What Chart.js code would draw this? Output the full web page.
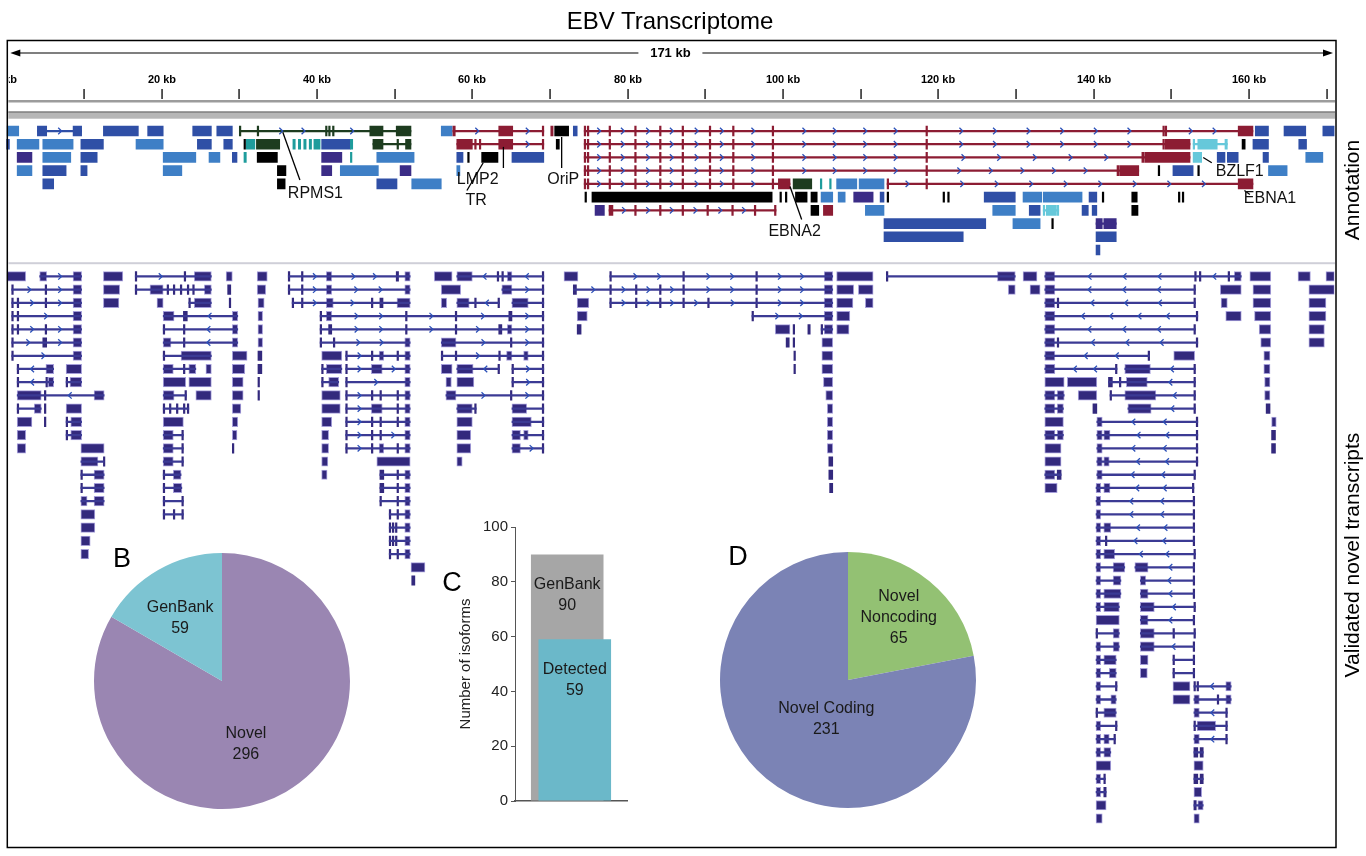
<!DOCTYPE html>
<html>
<head>
<meta charset="utf-8">
<script src="https://cdn.jsdelivr.net/npm/chart.js@4.4.1/dist/chart.umd.min.js"></script>
<style>
  body { margin: 0; background: #fff; font-family: "Liberation Sans", Arial, sans-serif; }
  #wrap { position: relative; width: 1366px; height: 856px; overflow: hidden; }
  canvas { position: absolute; }
  .txt { position: absolute; white-space: nowrap; color: #000; transform: translate(-50%, -50%); }
  .rot { transform: translate(-50%, -50%) rotate(-90deg); }
</style>
</head>
<body>
<div id="wrap">
  <canvas id="genome" width="1366" height="856" style="left:0;top:0"></canvas>
  <canvas id="pieB" width="300" height="300" style="left:72px;top:531px"></canvas>
  <canvas id="barC" width="210" height="320" style="left:430px;top:500px"></canvas>
  <canvas id="pieD" width="300" height="300" style="left:698px;top:530px"></canvas>
  <div class="txt" style="left:670px;top:21px;font-size:24px">EBV Transcriptome</div>
  <div class="txt rot" style="left:1352px;top:190px;font-size:21px">Annotation</div>
  <div class="txt rot" style="left:1352px;top:555px;font-size:21px">Validated novel transcripts</div>
  <div class="txt" style="left:122px;top:558px;font-size:27px">B</div>
  <div class="txt" style="left:452px;top:582px;font-size:27px">C</div>
  <div class="txt" style="left:738px;top:556px;font-size:27px">D</div>
</div>
<script>
// genome length and ruler (kb)
const genomeLength = 171;
const rulerTicks = [0, 10, 20, 30, 40, 50, 60, 70, 80, 90, 100, 110, 120, 130, 140, 150, 160, 170];

// annotation track: [row, strand, type, [exonStart, exonEnd, ...]] in kb
const annotTranscripts = [
  [0,0,'lb',[0.1,1.6]], [0,1,'b',[4.0,5.2, 8.6,9.7]], [0,0,'b',[12.5,17.0]], [0,0,'b',[18.2,20.2]],
  [0,0,'b',[24.0,26.4]], [0,0,'b',[27.1,29.1]],
  [0,1,'g',[30.0,30.2, 32.3,32.5, 41.1,41.3, 41.5,41.7, 42.0,42.2, 46.8,48.5, 50.2,52.1]],
  [0,0,'lb',[56.0,57.4]], [0,1,'r',[57.5,57.8, 63.4,65.2, 69.0,69.2]], [0,0,'r',[70.1,70.4]],
  [0,0,'k',[70.6,72.4]], [0,0,'b',[73.0,73.5]],
  [0,1,'r',[74.4,74.6, 74.8,75.0, 77.6,77.8, 80.9,81.1, 84.1,84.3, 87.0,87.2, 90.5,90.7, 93.5,93.7, 98.6,98.8, 118.4,118.6, 148.9,149.1, 149.2,149.4, 158.6,160.5]],
  [0,0,'b',[160.8,162.5]], [0,0,'b',[164.5,167.3]], [0,0,'b',[169.5,171]],

  [1,0,'b',[0,0.4]], [1,0,'lb',[1.4,4.2]], [1,0,'lb',[4.7,8.6]], [1,0,'b',[9.6,12.5]], [1,0,'lb',[16.7,20.2]],
  [1,0,'b',[24.6,26.4]], [1,0,'b',[28.0,29.1]], [1,0,'k',[30.6,30.8]], [1,0,'t',[30.9,32.0]], [1,0,'g',[32.2,35.2]],
  [1,0,'t',[36.9,37.2]], [1,0,'t',[37.6,37.9]], [1,0,'t',[38.3,38.6]], [1,0,'t',[39.0,39.3]], [1,0,'t',[39.6,40.4]],
  [1,0,'b',[40.6,44.3]], [1,0,'t',[44.3,44.6]], [1,0,'g',[47.2,48.5, 50.3,50.5, 51.4,52.1]],
  [1,1,'r',[58.0,60.0, 60.3,60.5, 60.9,61.0, 63.4,65.2, 69.0,69.2]], [1,0,'k',[70.8,71.2]],
  [1,1,'r',[74.4,74.6, 74.8,75.0, 77.6,77.8, 80.9,81.1, 84.1,84.3, 87.0,87.2, 90.5,90.7, 93.5,93.7, 98.6,98.8, 118.4,118.6, 148.9,149.1, 149.2,152.4]],
  [1,0,'c',[152.8,153.0, 153.4,155.9, 156.9,157.2]], [1,0,'k',[159.1,159.5]], [1,0,'b',[160.5,162.5]], [1,0,'b',[166.4,167.4]],

  [2,0,'pu',[1.4,3.3]], [2,0,'lb',[4.7,8.3]], [2,0,'b',[9.6,11.7]], [2,0,'lb',[20.2,24.4]], [2,0,'lb',[26.1,27.5]],
  [2,0,'b',[29.1,29.7]], [2,0,'t',[30.6,30.9]], [2,0,'k',[32.3,34.9]], [2,0,'pu',[40.6,43.2]], [2,0,'t',[44.3,44.5]],
  [2,0,'lb',[47.7,52.5]], [2,0,'b',[58.0,58.8]], [2,0,'k',[59.4,59.6]], [2,0,'k',[61.2,63.3]], [2,0,'b',[65.1,69.2]],
  [2,1,'r',[74.4,74.6, 74.8,75.0, 77.6,77.8, 80.9,81.1, 84.1,84.3, 87.0,87.2, 90.5,90.7, 93.5,93.7, 98.6,98.8, 118.4,118.6, 146.2,146.5, 146.6,152.4]],
  [2,0,'c',[152.8,153.9]], [2,0,'b',[155.9,156.9]], [2,0,'b',[157.2,158.6]], [2,0,'b',[161.8,162.5]], [2,0,'lb',[167.3,169.5]],

  [3,0,'lb',[1.4,3.3]], [3,0,'b',[4.7,7.7]], [3,0,'b',[9.6,10.4]], [3,0,'lb',[20.2,22.6]], [3,0,'k',[34.9,36.0]],
  [3,0,'pu',[40.6,41.9]], [3,0,'lb',[43.0,47.9]], [3,0,'pu',[50.7,52.1]], [3,0,'lb',[58.0,58.4]],
  [3,1,'r',[74.4,74.6, 74.8,75.0, 77.6,77.8, 80.9,81.1, 84.1,84.3, 87.0,87.2, 90.5,90.7, 93.5,93.7, 98.6,98.8, 118.4,118.6, 143.0,143.3, 143.4,145.8]],
  [3,0,'k',[148.3,148.5]], [3,0,'b',[150.2,152.8]], [3,0,'k',[153.4,153.6]], [3,0,'lb',[162.5,164.9]],

  [4,0,'b',[4.7,6.1]], [4,0,'k',[34.9,35.9]], [4,0,'b',[47.7,50.3]], [4,0,'lb',[52.2,56.0]],
  [4,1,'r',[74.4,74.6, 74.8,75.0, 77.6,77.8, 80.9,81.1, 84.1,84.3, 87.0,87.2, 90.5,90.7, 93.5,93.7, 98.6,98.8, 99.4,100.9]],
  [4,0,'g',[101.3,103.7]], [4,0,'t',[104.8,105.0]], [4,0,'t',[106.0,106.2]], [4,0,'lb',[106.9,109.5]], [4,0,'lb',[109.8,113.0]],
  [4,1,'r',[113.4,113.6, 118.4,118.6, 158.6,160.5]],

  [5,0,'k',[74.5,74.7]], [5,0,'k',[75.4,98.6]], [5,0,'k',[99.6,99.8]], [5,0,'k',[100.3,100.5]], [5,0,'k',[101.6,103.1]],
  [5,0,'k',[103.6,104.4]], [5,0,'lb',[104.9,106.4]], [5,0,'lb',[107.1,108.0]], [5,0,'pu',[109.1,111.6]], [5,0,'b',[112.5,113.0]],
  [5,0,'k',[113.4,113.6]], [5,0,'k',[120.6,120.8]], [5,0,'k',[121.2,121.4]], [5,0,'b',[125.9,129.9]], [5,0,'lb',[130.9,133.3]],
  [5,0,'lb',[133.5,138.5]], [5,0,'b',[139.4,140.4]], [5,0,'k',[141.1,141.3]], [5,0,'k',[144.9,145.6]],
  [5,0,'k',[150.9,151.1]], [5,0,'k',[151.4,151.6]],

  [6,0,'pu',[75.8,77.0]],
  [6,1,'r',[77.6,78.1, 80.9,81.1, 84.1,84.3, 87.0,87.2, 90.2,90.4, 93.4,93.6, 96.3,96.5, 98.9,99.1]],
  [6,0,'k',[103.6,104.6]], [6,0,'r',[105.2,106.4]], [6,0,'lb',[110.6,113.0]], [6,0,'lb',[127.0,129.9]], [6,0,'b',[131.7,133.1]],
  [6,0,'c',[133.5,133.7, 133.9,135.2, 135.3,135.5]], [6,0,'b',[138.5,139.3]], [6,0,'b',[139.8,140.4]], [6,0,'k',[144.9,145.7]],

  [7,0,'b',[113.0,126.1]], [7,0,'lb',[129.6,133.1]], [7,0,'k',[134.6,134.8]], [7,0,'pu',[140.3,141.1, 141.3,142.9]],
  [8,-1,'b',[113.0,123.2]], [8,0,'b',[140.3,142.9]],
  [9,0,'b',[140.3,140.8]]
];

// validated novel transcripts: [row, strand, [exonStart, exonEnd, ...]] in kb
const novelTranscripts = [
  [0,0,[0.1,2.5]], [0,1,[4.3,5.2, 8.6,9.7]], [0,0,[12.5,15.0]], [0,1,[16.6,16.8, 22.9,23.1, 24.2,26.4]],
  [0,0,[28.3,29.1]], [0,0,[32.3,33.6]], [0,1,[36.3,36.5, 38.0,38.2, 41.2,41.9, 50.2,50.5, 51.3,52.0]],
  [0,0,[55.1,57.4]], [0,-1,[58.0,60.0, 63.2,63.4, 63.8,64.0, 64.5,65.1, 69.0,69.2]], [0,0,[71.8,73.6]],
  [0,1,[77.7,77.9, 87.1,87.3, 96.5,96.7, 105.3,106.4]], [0,0,[106.9,111.6]], [0,0,[113.3,113.5, 127.6,129.9]],
  [0,0,[130.9,132.7]], [0,-1,[133.7,135.0, 153.0,153.2, 153.6,153.8, 157.3,157.5, 158.1,159.0]],
  [0,0,[160.1,162.8]], [0,0,[166.3,167.9]], [0,0,[169.9,171]],

  [1,1,[0.7,0.9, 5.0,5.2, 8.6,9.7]], [1,0,[12.5,14.6]],
  [1,0,[16.6,16.8, 18.5,20.2, 20.7,20.9, 21.5,21.7, 22.4,22.6, 23.3,23.5, 24.0,24.2, 25.5,26.4]],
  [1,0,[28.5,28.9]], [1,0,[32.3,33.4]], [1,1,[36.3,36.5, 38.0,38.2, 41.2,41.9, 51.3,52.0]], [1,0,[56.0,58.5]],
  [1,1,[63.8,65.1, 69.0,69.2]], [1,1,[73.0,73.4, 77.7,77.9, 81.0,81.2, 84.1,84.3, 87.1,87.3, 96.5,96.7, 105.3,106.4]],
  [1,0,[106.9,109.1]], [1,0,[109.7,111.6]], [1,0,[129.0,129.9]], [1,0,[131.8,133.1]], [1,-1,[133.7,135.0, 152.9,153.1]],
  [1,0,[156.3,159.0]], [1,0,[160.5,162.8]], [1,0,[167.7,171]],

  [2,1,[0.7,0.9, 1.4,1.6, 5.0,5.2, 8.6,9.7]], [2,0,[12.5,14.5]], [2,0,[19.4,20.2]], [2,0,[23.5,23.7, 24.2,26.4]],
  [2,0,[28.7,28.9]], [2,0,[32.4,33.2]], [2,1,[36.8,37.0, 38.0,38.2, 41.2,42.1, 47.0,47.2, 48.1,48.5, 50.3,52.0]],
  [2,0,[56.0,56.7]], [2,-1,[58.0,59.6, 60.3,60.5, 63.3,63.5]], [2,0,[65.1,67.2, 69.0,69.2]], [2,0,[73.5,75.0]],
  [2,1,[77.7,77.9, 81.0,81.2, 84.1,84.3, 87.1,87.3, 90.3,90.5, 96.5,96.7, 105.3,106.4]], [2,0,[106.9,109.0]],
  [2,0,[110.6,111.6]], [2,-1,[133.7,135.0, 135.3,135.5, 152.9,153.1]], [2,0,[156.4,157.2]], [2,0,[160.5,162.8]], [2,0,[167.7,169.9]],

  [3,1,[0.7,0.9, 1.4,1.6, 8.6,9.7]], [3,-1,[20.2,21.6, 22.8,23.3, 29.1,29.8]], [3,0,[32.4,33.0]],
  [3,1,[40.4,40.6, 41.2,41.9, 51.4,51.6, 57.8,58.0, 64.7,65.1, 69.0,69.2]], [3,0,[73.5,74.8]],
  [3,1,[96.0,96.2, 105.3,106.4]], [3,0,[106.9,108.6]], [3,-1,[133.7,135.0, 153.2,153.4]], [3,0,[157.0,159.0]],
  [3,0,[160.7,162.8]], [3,0,[167.7,169.9]],

  [4,1,[0.7,0.9, 1.4,1.6, 5.0,5.2, 8.6,9.7]], [4,-1,[20.2,20.4, 22.8,23.0, 29.1,29.8]], [4,0,[32.4,33.0]],
  [4,1,[40.4,40.6, 41.5,41.9, 51.4,51.6, 57.8,58.0, 63.4,63.8, 64.5,65.1, 69.0,69.2]], [4,0,[73.5,74.0]],
  [4,0,[99.0,100.9]], [4,0,[101.3,101.5]], [4,0,[103.2,103.5]], [4,0,[104.9,105.1, 105.3,106.4]], [4,0,[106.9,108.5]],
  [4,-1,[133.7,135.0, 152.9,153.1]], [4,0,[161.3,162.8]], [4,0,[167.7,169.7]],

  [5,1,[0.7,0.9, 4.7,5.2, 8.6,9.7]], [5,-1,[20.2,21.2, 22.8,23.0, 29.1,29.8]], [5,0,[32.4,33.0]],
  [5,1,[40.4,40.6, 42.1,42.3, 51.3,52.0]], [5,1,[56.0,57.9, 64.9,65.1, 69.0,69.2]], [5,0,[100.4,100.8]],
  [5,0,[101.3,101.5]], [5,0,[105.0,106.4]], [5,-1,[133.7,135.0, 135.3,135.5, 153.2,153.4]], [5,0,[161.5,162.8]], [5,0,[167.7,169.7]],

  [6,1,[0.7,0.9, 8.6,9.7]], [6,0,[20.2,20.4, 22.5,26.4]], [6,0,[29.1,31.0]], [6,0,[32.4,32.9]], [6,0,[40.6,43.2]],
  [6,1,[43.7,43.9, 47.0,47.2, 48.0,48.6, 50.3,50.5, 51.3,52.0]],
  [6,1,[56.0,56.2, 57.8,58.0, 63.4,63.6, 64.4,65.1, 66.6,67.2, 69.0,69.2]], [6,0,[101.4,101.6]], [6,0,[105.0,106.4]],
  [6,-1,[133.7,135.0, 147.0,147.2]], [6,0,[150.3,153.0]], [6,0,[161.9,162.7]],

  [7,-1,[1.4,1.6, 5.1,6.1]], [7,0,[7.7,9.7]], [7,0,[20.2,21.5, 22.8,23.0, 23.5,24.4]], [7,0,[25.7,26.4]],
  [7,0,[29.1,30.7]], [7,0,[32.4,32.9]], [7,0,[40.6,40.8, 41.2,43.2]], [7,1,[43.7,43.9, 47.0,48.4, 51.3,52.0]],
  [7,0,[56.0,57.4]], [7,-1,[58.0,60.1, 63.3,63.5]], [7,1,[65.1,65.3, 69.0,69.2]], [7,0,[101.4,101.6]], [7,0,[105.0,106.4]],
  [7,-1,[133.7,135.0, 142.8,143.0]], [7,-1,[144.0,147.3, 152.9,153.1]], [7,0,[161.9,162.7]],

  [8,-1,[1.4,1.6, 5.1,5.3, 5.4,6.1]], [8,0,[7.7,7.9, 8.2,9.7]], [8,0,[20.2,23.1]], [8,0,[23.5,26.4]], [8,0,[29.1,30.5]],
  [8,0,[32.4,32.6]], [8,0,[40.6,40.8, 41.5,42.8]], [8,1,[43.7,43.9, 51.3,52.0]], [8,0,[56.6,57.3]], [8,0,[58.0,60.2]],
  [8,1,[65.1,65.3, 69.0,69.2]], [8,0,[105.2,106.4]], [8,0,[133.7,136.2]], [8,0,[136.6,140.4]],
  [8,-1,[141.9,142.4, 143.3,143.5, 144.2,146.9, 152.9,153.1]], [8,0,[162.0,162.7]],

  [9,-1,[1.4,4.5, 4.9,5.1, 11.3,12.6]], [9,0,[20.2,21.6, 23.0,23.2]], [9,0,[24.4,26.4]], [9,0,[29.1,30.5]],
  [9,0,[32.4,32.6]], [9,0,[40.6,43.0]], [9,1,[43.7,43.9, 47.0,47.2, 48.1,48.3, 50.3,50.5, 51.3,52.0]],
  [9,1,[56.6,57.9, 64.9,65.1, 69.0,69.2]], [9,0,[105.5,106.4]], [9,0,[133.7,135.0, 135.3,136.2]], [9,0,[138.0,140.4]],
  [9,-1,[142.1,142.3, 144.0,148.0, 152.9,153.1]], [9,0,[162.0,162.7]],

  [10,0,[1.4,1.6, 3.6,4.5]], [10,0,[4.9,5.1]], [10,0,[7.7,9.7]], [10,0,[20.2,20.4, 21.0,21.2, 21.9,22.1, 22.8,23.0, 23.3,23.5]],
  [10,0,[29.1,30.2]], [10,0,[40.6,43.0]], [10,1,[43.7,43.9, 47.0,48.4, 50.3,50.5, 51.3,52.0]], [10,0,[58.0,60.0, 60.3,60.5]],
  [10,0,[65.1,67.0, 69.0,69.2]], [10,0,[105.7,106.4]], [10,0,[133.7,135.0, 135.3,136.1]], [10,0,[139.9,140.4]],
  [10,-1,[144.4,147.4, 152.9,153.1]], [10,0,[162.2,162.7]],

  [11,0,[1.4,3.3]], [11,0,[4.9,5.1]], [11,0,[7.7,7.9, 8.3,9.7]], [11,0,[20.2,22.8]], [11,0,[29.1,29.8]], [11,0,[40.6,41.9]],
  [11,1,[43.7,43.9, 47.0,47.2, 48.1,48.3, 50.3,50.5, 51.3,52.0]], [11,0,[58.0,60.0]], [11,0,[65.1,67.6, 69.0,69.2]],
  [11,0,[105.7,106.4]], [11,0,[133.7,136.1]], [11,-1,[140.4,141.1, 153.2,153.4]], [11,0,[162.9,163.5]],

  [12,0,[1.4,2.5]], [12,0,[7.7,7.9, 8.3,9.7]], [12,0,[20.2,21.5, 22.6,22.8]], [12,0,[29.1,29.7]], [12,0,[40.6,41.5]],
  [12,1,[43.7,43.9, 47.0,47.2, 48.1,48.3, 51.3,52.0]], [12,0,[58.0,59.8]], [12,0,[65.1,66.2, 66.6,67.2, 69.0,69.2]],
  [12,0,[105.7,106.4]], [12,0,[133.7,135.0, 135.3,136.1]], [12,-1,[140.4,141.1, 141.3,142.1, 153.2,153.4]], [12,0,[162.9,163.4]],

  [13,0,[1.4,2.5]], [13,0,[9.6,12.6]], [13,0,[20.2,21.5, 22.6,22.8]], [13,0,[29.1,29.3]], [13,0,[40.6,41.5]],
  [13,1,[43.7,43.9, 47.0,47.2, 48.0,48.6, 50.3,50.5, 51.3,52.0]], [13,0,[58.0,59.8]], [13,1,[65.1,66.2, 69.0,69.2]],
  [13,0,[105.7,106.4]], [13,0,[133.7,135.8]], [13,-1,[140.4,141.1, 153.2,153.4]], [13,0,[162.9,163.4]],

  [14,0,[9.6,11.8, 12.5,12.6]], [14,0,[20.2,21.5, 22.6,22.8]], [14,0,[40.6,41.4]], [14,0,[47.7,52.0]], [14,0,[58.0,58.7]],
  [14,0,[105.9,106.4]], [14,0,[133.7,135.8]], [14,-1,[140.4,141.1, 141.3,142.0, 153.2,153.4]],

  [15,0,[9.6,9.8, 11.3,12.6]], [15,0,[20.2,20.4, 21.5,22.5]], [15,0,[40.6,41.3]], [15,0,[48.1,48.6, 50.3,50.5, 51.3,52.0]],
  [15,0,[105.9,106.4]], [15,0,[133.7,135.0, 135.3,135.8]], [15,-1,[140.4,141.1, 152.9,153.1]],

  [16,0,[9.6,9.8, 11.3,12.6]], [16,0,[20.2,20.4, 21.5,22.6]], [16,0,[48.1,48.6, 50.3,50.5, 51.3,52.0]], [16,0,[106.0,106.4]],
  [16,0,[133.7,135.3]], [16,-1,[140.3,140.9, 141.3,142.1, 152.7,152.9]],

  [17,0,[9.6,10.4, 11.3,12.6]], [17,0,[20.2,20.4, 22.6,22.8]], [17,0,[48.1,48.3, 50.3,50.5, 51.3,52.0]], [17,-1,[140.3,140.9, 152.8,153.0]],
  [18,0,[9.6,11.4]], [18,0,[20.2,20.4, 21.5,21.7, 22.6,22.8]], [18,0,[49.3,49.5, 50.3,50.5, 51.3,52.0]], [18,-1,[140.3,140.9, 152.8,153.0]],
  [19,0,[9.6,11.4]], [19,0,[49.3,49.5, 49.7,49.9, 50.1,50.3, 51.3,52.0]], [19,-1,[140.3,140.9, 141.3,142.2, 152.8,153.0]],
  [20,0,[9.6,10.8]], [20,0,[49.3,49.5, 49.7,49.9, 50.1,50.3, 51.3,52.0]], [20,-1,[140.3,140.9, 141.5,141.7, 152.8,153.0]],
  [21,0,[9.6,10.6]], [21,0,[49.3,49.5, 50.3,50.5, 51.3,52.0]], [21,-1,[140.3,140.9, 141.3,142.7, 152.9,153.1]],
  [22,0,[52.1,53.9]], [22,0,[140.3,140.9, 142.5,144.0]], [22,-1,[145.3,147.0, 152.8,153.0]],
  [23,0,[52.2,52.6]], [23,0,[140.3,140.9, 142.5,143.5]], [23,-1,[146.0,146.7, 152.8,153.0]],
  [24,0,[140.3,140.9, 141.3,143.5]], [24,-1,[146.0,147.0, 152.8,153.0]],
  [25,0,[140.3,140.9, 141.3,143.3]], [25,-1,[146.0,147.8, 152.9,153.1]],
  [26,0,[140.3,143.3]], [26,-1,[146.0,147.0, 152.8,153.0]],
  [27,0,[140.3,140.5, 142.5,143.3]], [27,-1,[146.0,147.8, 150.2,150.4, 152.9,153.1]],
  [28,0,[140.3,140.9, 142.5,143.3]], [28,-1,[146.0,147.8, 152.8,153.0]],
  [29,0,[140.3,140.9, 141.3,142.9]], [29,0,[146.0,147.0]], [29,0,[150.2,150.4, 152.8,153.0]],
  [30,0,[140.3,140.9, 142.0,142.9]], [30,0,[146.0,146.9]], [30,0,[150.2,150.4, 152.8,153.0]],
  [31,0,[140.3,140.9, 142.8,143.0]], [31,0,[150.2,152.4]], [31,-1,[152.9,153.1, 153.3,153.5, 157.0,157.7]],
  [32,0,[140.3,140.9, 142.2,142.9]], [32,0,[150.2,152.4]], [32,0,[152.9,153.6, 155.9,156.1, 157.0,157.7]],
  [33,0,[140.3,140.5, 141.3,142.9]], [33,-1,[152.9,153.6, 157.0,157.2]],
  [34,0,[140.3,140.9, 142.8,143.0]], [34,0,[152.9,153.1, 153.3,155.7, 157.0,157.2]],
  [35,0,[140.3,140.9, 141.3,142.0, 142.6,142.8]], [35,-1,[152.9,153.6, 157.0,157.2]],
  [36,0,[140.3,140.9, 141.3,142.2]], [36,0,[152.9,153.4, 153.7,154.1]],
  [37,0,[140.3,142.2]], [37,0,[152.9,154.1]],
  [38,0,[140.3,140.9, 141.3,141.5]], [38,0,[152.9,153.4, 153.7,154.1]],
  [39,0,[140.3,140.9, 141.3,141.6]], [39,0,[152.9,153.9]],
  [40,0,[140.3,141.6]], [40,0,[152.9,153.2, 153.4,154.1]],
  [41,0,[140.3,141.1]], [41,0,[152.9,153.6]]
];

// panel B, C, D
const pieBLabels = ['Novel', 'GenBank'];
const pieBValues = [296, 59];
const barCSeries = ['GenBank', 'Detected'];
const barCValues = [90, 59];
const pieDLabels = [['Novel', 'Noncoding'], 'Novel Coding'];
const pieDValues = [65, 231];

Chart.defaults.font.family = '"Liberation Sans", Arial, sans-serif';
Chart.defaults.animation = false;
Chart.defaults.events = [];

const annotRows = 10;
const novelRowStart = 11;
const rowIds = Array.from({ length: novelRowStart + 42 }, (_, i) => i);

const typeColors = {
  lb: '#3e7fc6', b: '#2f4fa6', pu: '#3b2c86', g: '#1d3c1f', t: '#1e9c9c',
  r: '#8c1c33', c: '#66c8da', k: '#000000', n: '#33297d'
};
const lineColors = Object.assign({}, typeColors, { n: '#3b3a94' });

function buildTracks() {
  var all = annotTranscripts.map(t => ({ row: t[0], strand: t[1], type: t[2], exons: t[3] }))
    .concat(novelTranscripts.map(t => ({ row: t[0] + novelRowStart, strand: t[1], type: 'n', exons: t[2] })));
  var introns = [], annotExons = [], novelExons = [];
  all.forEach(t => {
    var ex = t.exons;
    if (ex.length > 2) introns.push({ x: [ex[0], ex[ex.length - 1]], y: t.row, type: t.type });
    for (let i = 0; i < ex.length; i += 2) {
      var item = { x: [ex[i], ex[i + 1]], y: t.row, type: t.type };
      (t.type === 'n' ? novelExons : annotExons).push(item);
    }
  });
  return { all, introns, annotExons, novelExons };
}
const tracks = buildTracks();

const genomeDecor = {
  id: 'genomeDecor',
  afterDatasetsDraw(chart, args, opts) {
    const { ctx, scales: { x, y } } = chart;
    ctx.save();
    ctx.strokeStyle = opts.arrowColor;
    ctx.lineWidth = 1.3;
    tracks.all.forEach(t => {
      if (!t.strand) return;
      const py = y.getPixelForValue(t.row);
      for (let i = 1; i + 1 < t.exons.length; i += 2) {
        const x1 = x.getPixelForValue(t.exons[i]), x2 = x.getPixelForValue(t.exons[i + 1]);
        const n = Math.round((x2 - x1) / 40);
        for (let k = 1; k <= n; k++) {
          const cx = x1 + (x2 - x1) * k / (n + 1), d = 1.7 * t.strand;
          ctx.beginPath();
          ctx.moveTo(cx - d, py - 3.2);
          ctx.lineTo(cx + d, py);
          ctx.lineTo(cx - d, py + 3.2);
          ctx.stroke();
        }
      }
    });
    ctx.restore();
  },
  afterDraw(chart, args, opts) {
    const { ctx, chartArea: a, scales: { x, y } } = chart;
    const left = a.left + 1, right = a.right + 1.5;
    ctx.save();

    // frame
    ctx.strokeStyle = '#000';
    ctx.lineWidth = 1.5;
    ctx.strokeRect(left, 40.5, right - left, 807);

    // total length arrow
    const mid = x.getPixelForValue(genomeLength / 2);
    ctx.lineWidth = 1.2;
    ctx.beginPath();
    ctx.moveTo(left + 12, 53); ctx.lineTo(mid - 32, 53);
    ctx.moveTo(mid + 32, 53); ctx.lineTo(right - 12, 53);
    ctx.stroke();
    ctx.fillStyle = '#000';
    ctx.beginPath(); ctx.moveTo(left + 3, 53); ctx.lineTo(left + 13, 49.5); ctx.lineTo(left + 13, 56.5); ctx.fill();
    ctx.beginPath(); ctx.moveTo(right - 3, 53); ctx.lineTo(right - 13, 49.5); ctx.lineTo(right - 13, 56.5); ctx.fill();
    ctx.font = 'bold 13px "Liberation Sans", Arial, sans-serif';
    ctx.textAlign = 'center';
    ctx.textBaseline = 'middle';
    ctx.fillText(genomeLength + ' kb', mid, 53);

    // ruler
    ctx.save();
    ctx.beginPath();
    ctx.rect(left + 1.5, 60, right - left - 2, 45);
    ctx.clip();
    ctx.font = 'bold 11px "Liberation Sans", Arial, sans-serif';
    rulerTicks.forEach(v => {
      const px = Math.round(x.getPixelForValue(v));
      ctx.fillRect(px - 0.6, 89, 1.3, 10);
      if (v % 20 === 0) ctx.fillText(v + ' kb', px, 80);
    });
    ctx.restore();
    ctx.fillStyle = '#9c9c9c';
    ctx.fillRect(left + 1, 100, right - left - 2, 2.5);
    ctx.fillStyle = '#404040';
    ctx.fillRect(left + 1, 111.5, right - left - 2, 1.2);
    ctx.fillStyle = '#b6b6b6';
    ctx.fillRect(left + 1, 112.7, right - left - 2, 6);

    // separator between annotation and novel transcripts
    const sep = (y.getPixelForValue(annotRows - 1) + y.getPixelForValue(novelRowStart)) / 2;
    ctx.fillStyle = '#cfcfd8';
    ctx.fillRect(left + 1, sep - 1, right - left - 2, 2);

    // gene labels with leader lines
    ctx.strokeStyle = '#000';
    ctx.lineWidth = 1.3;
    ctx.fillStyle = '#111';
    ctx.font = '16px "Liberation Sans", Arial, sans-serif';
    opts.labels.forEach(l => {
      ctx.beginPath();
      ctx.moveTo(x.getPixelForValue(l.from[0]), y.getPixelForValue(l.from[1]));
      ctx.lineTo(x.getPixelForValue(l.to[0]), y.getPixelForValue(l.to[1]));
      ctx.stroke();
      ctx.fillText(l.text, x.getPixelForValue(l.at[0]), y.getPixelForValue(l.at[1]));
    });
    ctx.restore();
  }
};

new Chart(document.getElementById('genome'), {
  type: 'bar',
  data: {
    labels: rowIds,
    datasets: [
      {
        data: tracks.introns,
        backgroundColor: c => lineColors[c.raw.type],
        barThickness: 1.6,
        borderWidth: 0
      },
      {
        data: tracks.annotExons,
        backgroundColor: c => typeColors[c.raw.type],
        barThickness: 10,
        minBarLength: 1.5,
        borderWidth: 0
      },
      {
        data: tracks.novelExons,
        backgroundColor: typeColors.n,
        barThickness: 9.5,
        minBarLength: 1.5,
        borderSkipped: false,
        borderWidth: c => (c.raw.x[1] - c.raw.x[0] > 0.5 ? 1 : 0),
        borderColor: 'rgba(135,125,205,0.75)'
      }
    ]
  },
  options: {
    indexAxis: 'y',
    responsive: false,
    grouped: false,
    layout: { padding: { left: 6.3, top: 124.4, right: 31.5, bottom: 30.9 } },
    scales: {
      x: { type: 'linear', min: 0, max: genomeLength, display: false },
      y: { type: 'category', display: false, offset: true }
    },
    plugins: {
      legend: { display: false },
      tooltip: { enabled: false },
      genomeDecor: {
        arrowColor: '#2b50b8',
        labels: [
          { text: 'RPMS1', at: [39.8, 4.7], from: [35.6, 0.1], to: [37.8, 3.7] },
          { text: 'LMP2', at: [60.7, 3.7], from: [64.0, 1.2], to: [64.0, 2.8] },
          { text: 'TR', at: [60.5, 5.3], from: [61.4, 2.4], to: [59.3, 4.5] },
          { text: 'OriP', at: [71.7, 3.7], from: [71.5, 0.45], to: [71.5, 2.8] },
          { text: 'EBNA2', at: [101.5, 7.6], from: [100.9, 4.2], to: [102.4, 6.7] },
          { text: 'BZLF1', at: [158.8, 3.1], from: [154.1, 2.0], to: [155.2, 2.4] },
          { text: 'EBNA1', at: [162.7, 5.1], from: [159.4, 4.5], to: [160.1, 4.8] }
        ]
      }
    }
  },
  plugins: [genomeDecor]
});

// label + value inside each pie slice
const sliceText = {
  id: 'sliceText',
  afterDatasetsDraw(chart, args, opts) {
    const { ctx } = chart;
    const meta = chart.getDatasetMeta(0);
    ctx.save();
    ctx.fillStyle = '#1a1a1a';
    ctx.font = '16px "Liberation Sans", Arial, sans-serif';
    ctx.textAlign = 'center';
    ctx.textBaseline = 'middle';
    meta.data.forEach((arc, i) => {
      const p = arc.tooltipPosition();
      const shift = opts.shift[i] || [0, 0];
      const label = chart.data.labels[i];
      const lines = [].concat(label, String(chart.data.datasets[0].data[i]));
      const top = p.y + shift[1] - (lines.length - 1) * 10.5;
      lines.forEach((s, j) => ctx.fillText(s, p.x + shift[0], top + j * 21));
    });
    ctx.restore();
  }
};

function pieOptions(shift) {
  return {
    responsive: false,
    layout: { padding: 22 },
    plugins: { legend: { display: false }, tooltip: { enabled: false }, sliceText: { shift: shift } }
  };
}

new Chart(document.getElementById('pieB'), {
  type: 'pie',
  data: { labels: pieBLabels, datasets: [{ data: pieBValues, backgroundColor: ['#9a86b2', '#7dc4d2'], borderWidth: 0 }] },
  options: pieOptions([[-8, 8], [-10, -7]]),
  plugins: [sliceText]
});

new Chart(document.getElementById('pieD'), {
  type: 'pie',
  data: { labels: pieDLabels, datasets: [{ data: pieDValues, backgroundColor: ['#93c173', '#7b83b5'], borderWidth: 0 }] },
  options: pieOptions([[10, -13], [19, -10]]),
  plugins: [sliceText]
});

// series name + value written inside each bar of panel C
const barText = {
  id: 'barText',
  afterDatasetsDraw(chart) {
    const { ctx } = chart;
    ctx.save();
    ctx.fillStyle = '#1a1a1a';
    ctx.font = '16px "Liberation Sans", Arial, sans-serif';
    ctx.textAlign = 'center';
    ctx.textBaseline = 'middle';
    chart.data.datasets.forEach((ds, i) => {
      const bar = chart.getDatasetMeta(i).data[0];
      ctx.fillText(ds.label, bar.x, bar.y + 30);
      ctx.fillText(String(ds.data[0]), bar.x, bar.y + 51);
    });
    ctx.restore();
  }
};

// Detected overlaps GenBank: draw it last, shifted a little to the right
const barCColors = ['#a6a6a6', '#6bb8c9'];
new Chart(document.getElementById('barC'), {
  type: 'bar',
  data: {
    labels: ['isoforms'],
    datasets: barCSeries.map((s, i) => ({
      label: s, data: [barCValues[i]], backgroundColor: barCColors[i], order: barCSeries.length - 1 - i
    }))
  },
  options: {
    responsive: false,
    layout: { padding: { left: 23, top: 27, right: 13, bottom: 19 } },
    datasets: { bar: { categoryPercentage: -0.135, barPercentage: -9.6 } },
    scales: {
      x: {
        grid: { display: false, drawTicks: false },
        ticks: { display: false },
        border: { color: '#555', width: 1.5 }
      },
      y: {
        min: 0, max: 100,
        ticks: { stepSize: 20, color: '#222', padding: 3, font: { size: 15 } },
        grid: { drawOnChartArea: false, tickLength: 4, color: '#555' },
        border: { color: '#555', width: 1 },
        title: { display: true, text: 'Number of isoforms', color: '#222', font: { size: 15 }, padding: { top: 4, bottom: 0 } },
        afterFit: s => { s.width = 62; }
      }
    },
    plugins: { legend: { display: false }, tooltip: { enabled: false } }
  },
  plugins: [barText]
});
</script>
</body>
</html>
